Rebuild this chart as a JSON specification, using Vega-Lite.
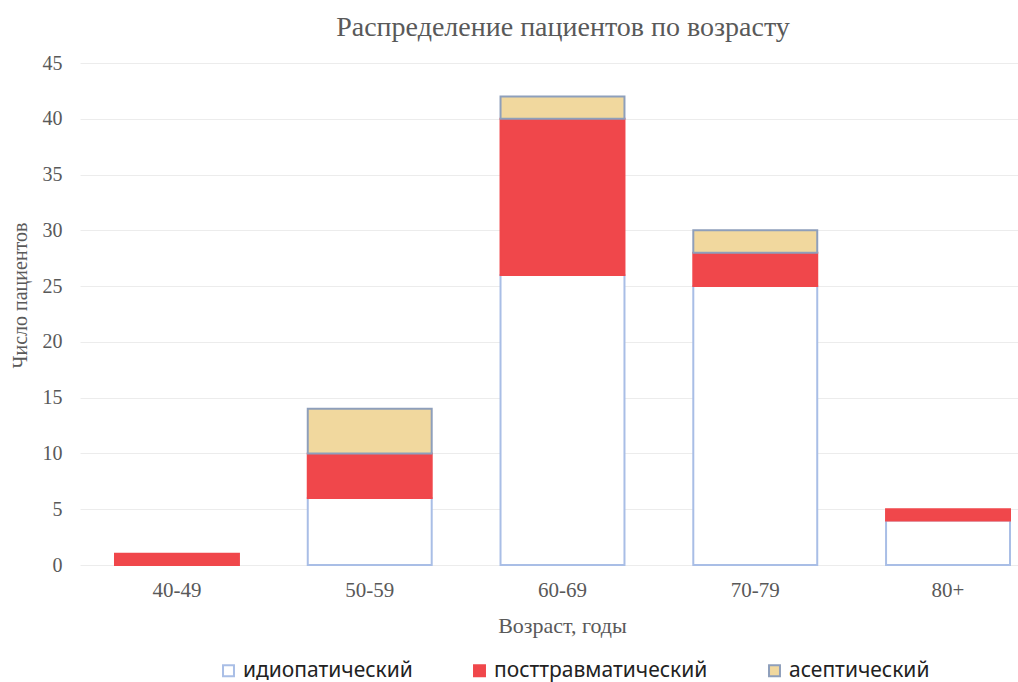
{
  "$schema": "https://vega.github.io/schema/vega-lite/v6.json",
  "autosize": "none",
  "width": 938,
  "height": 502,
  "padding": {"left": 80, "top": 63, "right": 0, "bottom": 117},
  "background": "white",
  "title": {
    "text": "Распределение пациентов по возрасту",
    "font": "Liberation Serif",
    "fontSize": 28,
    "fontWeight": "normal",
    "color": "#595959",
    "anchor": "middle",
    "frame": "group",
    "dx": 14,
    "offset": 11
  },
  "data": {
    "values": [
      {"age": "40-49", "type": "посттравматический", "ord": 2, "count": 1},
      {"age": "50-59", "type": "идиопатический", "ord": 1, "count": 6},
      {"age": "50-59", "type": "посттравматический", "ord": 2, "count": 4},
      {"age": "50-59", "type": "асептический", "ord": 3, "count": 4},
      {"age": "60-69", "type": "идиопатический", "ord": 1, "count": 26},
      {"age": "60-69", "type": "посттравматический", "ord": 2, "count": 14},
      {"age": "60-69", "type": "асептический", "ord": 3, "count": 2},
      {"age": "70-79", "type": "идиопатический", "ord": 1, "count": 25},
      {"age": "70-79", "type": "посттравматический", "ord": 2, "count": 3},
      {"age": "70-79", "type": "асептический", "ord": 3, "count": 2},
      {"age": "80+", "type": "идиопатический", "ord": 1, "count": 4},
      {"age": "80+", "type": "посттравматический", "ord": 2, "count": 1}
    ]
  },
  "mark": {"type": "bar", "strokeWidth": 2},
  "encoding": {
    "x": {
      "field": "age",
      "type": "nominal",
      "sort": ["40-49", "50-59", "60-69", "70-79", "80+"],
      "scale": {"paddingInner": 0.357, "paddingOuter": 0.1115, "align": 0.814},
      "axis": {
        "title": "Возраст, годы",
        "labelAngle": 0,
        "labelFont": "Liberation Serif",
        "labelFontSize": 21,
        "labelColor": "#595959",
        "labelPadding": 14,
        "ticks": false,
        "domain": false,
        "titleFont": "Liberation Serif",
        "titleFontSize": 22,
        "titleFontWeight": "normal",
        "titleColor": "#595959",
        "titleX": 482,
        "titleY": 60,
        "titleBaseline": "middle"
      }
    },
    "y": {
      "field": "count",
      "type": "quantitative",
      "aggregate": "sum",
      "stack": "zero",
      "scale": {"domain": [0, 45]},
      "axis": {
        "title": "Число пациентов",
        "values": [0, 5, 10, 15, 20, 25, 30, 35, 40, 45],
        "labelFont": "Liberation Serif",
        "labelFontSize": 20,
        "labelColor": "#595959",
        "labelPadding": 18,
        "ticks": false,
        "domain": false,
        "gridColor": "#ececec",
        "gridWidth": 1,
        "titleFont": "Liberation Serif",
        "titleFontSize": 20,
        "titleFontWeight": "normal",
        "titleColor": "#595959",
        "titleX": -60,
        "titleY": 232,
        "titleAngle": -90,
        "titleBaseline": "middle",
        "titleAlign": "center"
      }
    },
    "order": {"field": "ord", "type": "quantitative"},
    "fill": {
      "field": "type",
      "type": "nominal",
      "scale": {
        "domain": ["идиопатический", "посттравматический", "асептический"],
        "range": ["#ffffff", "#f0474b", "#f1d89e"]
      },
      "legend": {
        "title": null,
        "orient": "none",
        "direction": "horizontal",
        "legendX": 138,
        "legendY": 597,
        "symbolType": "square",
        "symbolSize": 120,
        "symbolStrokeWidth": 2,
        "labelFont": "Noto Sans",
        "labelFontSize": 21,
        "labelLimit": 0,
        "labelColor": "#222222",
        "labelOffset": 4,
        "columnPadding": 56
      }
    },
    "stroke": {
      "field": "type",
      "type": "nominal",
      "scale": {
        "domain": ["идиопатический", "посттравматический", "асептический"],
        "range": ["#a9bee6", "#f0474b", "#8e9fbb"]
      },
      "legend": {
        "title": null,
        "orient": "none",
        "direction": "horizontal",
        "legendX": 138,
        "legendY": 597,
        "symbolType": "square",
        "symbolSize": 120,
        "symbolStrokeWidth": 2,
        "labelFont": "Noto Sans",
        "labelFontSize": 21,
        "labelLimit": 0,
        "labelColor": "#222222",
        "labelOffset": 4,
        "columnPadding": 56
      }
    }
  },
  "config": {
    "view": {"stroke": null}
  }
}
